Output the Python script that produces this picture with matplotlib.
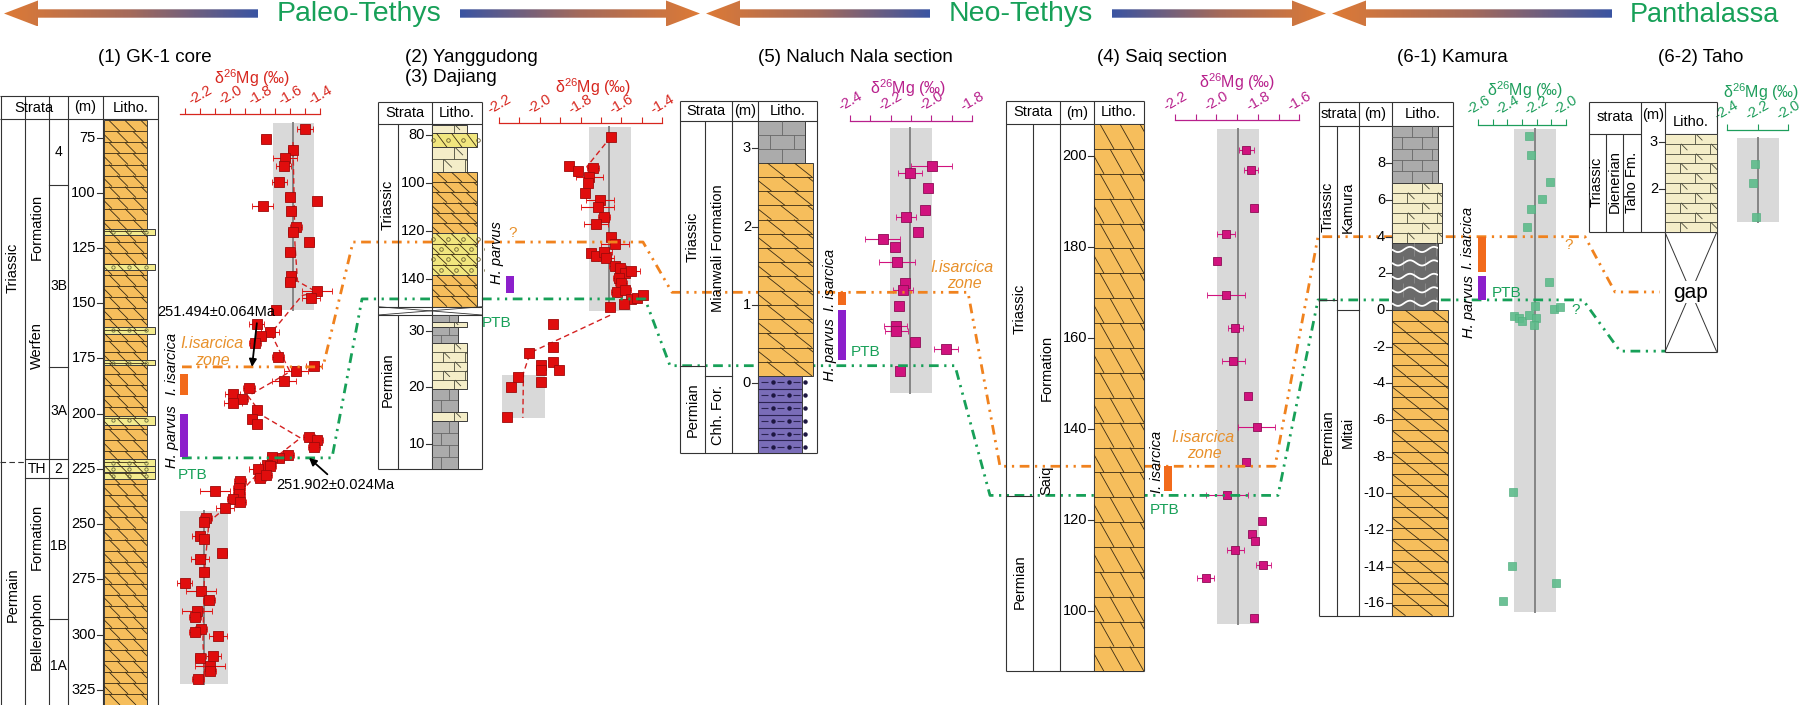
import numpy as np
import matplotlib.pyplot as plt
from matplotlib.patches import Rectangle, Polygon
from matplotlib.collections import LineCollection
from matplotlib.colors import LinearSegmentedColormap
from matplotlib.ticker import MultipleLocator, FormatStrFormatter

plt.rcParams['font.family'] = ['Liberation Sans', 'DejaVu Sans']
plt.rcParams['mathtext.fontset'] = 'custom'
plt.rcParams['mathtext.rm'] = 'Liberation Sans'
plt.rcParams['axes.unicode_minus'] = False

# ---------------- data ----------------
# (1) GK-1 core: depth (m), d26Mg (permil), 2SD
gk_depth = [71.1, 75.7, 80.7, 84.4, 87.8, 95.2, 101.7, 103.9, 106.1, 108.1, 115.6, 117.8,
            122.4, 126.7, 137.6, 140.6, 144.6, 147.4, 153.0, 159.4, 163.0, 165.0, 168.1, 174.3,
            178.5, 180.8, 185.0, 188.2, 191.3, 193.3, 195.2, 198.3, 202.6, 204.8, 210.4, 211.8,
            215.0, 218.7, 220.0, 219.6, 223.0, 223.9, 225.2, 228.9, 227.6, 230.4, 233.5, 234.8,
            236.3, 238.5, 240.0, 242.8, 247.4, 248.9, 255.4, 256.7, 263.1, 265.9, 271.5, 276.7,
            280.4, 284.4, 289.4, 292.2, 297.4, 298.7, 300.7, 309.8, 310.7, 314.1, 316.5, 320.0]
gk_d26 = [-1.50, -1.76, -1.58, -1.63, -1.64, -1.67, -1.60, -1.42, -1.78, -1.59, -1.56, -1.58,
          -1.47, -1.60, -1.59, -1.60, -1.42, -1.46, -1.69, -1.82, -1.73, -1.79, -1.83, -1.68,
          -1.44, -1.56, -1.64, -1.87, -1.98, -1.92, -1.98, -1.82, -1.85, -1.82, -1.47, -1.42,
          -1.44, -1.61, -1.67, -1.72, -1.75, -1.73, -1.81, -1.80, -1.76, -1.93, -1.94, -2.10,
          -1.94, -1.98, -1.93, -2.03, -2.16, -2.17, -2.20, -2.17, -2.05, -2.20, -2.17, -2.30,
          -2.19, -2.14, -2.22, -2.23, -2.19, -2.23, -2.08, -2.11, -2.20, -2.13, -2.13, -2.21]
gk_err = [0.055, 0.03, 0.03, 0.08, 0.05, 0.05, 0.03, 0.0, 0.07, 0.03, 0.04, 0.03,
          0.03, 0.03, 0.03, 0.03, 0.10, 0.06, 0.03, 0.05, 0.06, 0.03, 0.04, 0.04,
          0.05, 0.08, 0.08, 0.04, 0.05, 0.04, 0.06, 0.03, 0.03, 0.03, 0.04, 0.04,
          0.04, 0.04, 0.03, 0.03, 0.05, 0.04, 0.06, 0.04, 0.04, 0.04, 0.04, 0.10,
          0.04, 0.04, 0.04, 0.06, 0.04, 0.03, 0.05, 0.03, 0.03, 0.06, 0.03, 0.05,
          0.10, 0.04, 0.10, 0.04, 0.04, 0.04, 0.06, 0.05, 0.03, 0.10, 0.04, 0.04]
gk_trend_depth = [77, 123, 140, 145, 146.5, 163, 166, 181, 192, 201, 211, 220.5, 229, 242, 249, 271, 303, 320]
gk_trend_d26 = [-1.58, -1.567, -1.55, -1.42, -1.52, -1.72, -1.71, -1.60, -1.88, -1.78, -1.53,
                -1.71, -1.84, -2.02, -2.14, -2.17, -2.18, -2.17]
gk_band = [(-1.716, -1.44, 68.5, 153.2, -1.58), (-2.33, -2.01, 244.0, 322.2, -2.17)]
gk_ticks = [75, 100, 125, 150, 175, 200, 225, 250, 275, 300, 325]
gk_beds = [(116.6, 119.0), (132.3, 134.9), (160.9, 163.7), (175.7, 178.1), (201.2, 204.9),
           (220.6, 223.6), (223.6, 226.6), (226.6, 229.7)]
gk_units = [96.6, 178.8, 293.0]

# (2) Yanggudong
yg_depth = [80.7, 92.9, 95.0, 93.9, 97.4, 99.9, 104.0, 107.0, 109.9, 114.0, 117.2, 122.4,
            125.6, 129.3, 130.4, 128.6, 131.4, 134.6, 135.5, 137.4, 136.5, 139.7, 141.8, 145.3,
            144.6, 148.5, 150.5, 148.0, 146.7, 151.5]
yg_d26 = [-1.650, -1.855, -1.814, -1.737, -1.757, -1.765, -1.778, -1.704, -1.716, -1.683, -1.724, -1.650,
          -1.631, -1.748, -1.725, -1.683, -1.675, -1.631, -1.606, -1.582, -1.552, -1.610, -1.601, -1.619,
          -1.582, -1.552, -1.587, -1.524, -1.492, -1.655]
yg_err = [0.0, 0.0, 0.0, 0.03, 0.065, 0.0, 0.0, 0.07, 0.08, 0.03, 0.06, 0.0,
          0.07, 0.0, 0.0, 0.04, 0.04, 0.03, 0.03, 0.0, 0.045, 0.03, 0.03, 0.03,
          0.03, 0.0, 0.0, 0.0, 0.0, 0.0]
yg_trend_depth = [80.7, 93.2, 96.7]
yg_trend_d26 = [-1.650, -1.769, -1.737]
yg_band = (-1.758, -1.552, 76.5, 153.2, -1.66)
yg_ticks = [80, 100, 120, 140]
yg_litho = [('dls', 75.8, 79.0), ('oo', 79.0, 85.1), ('dls', 85.1, 95.3), ('dol', 95.3, 121.0),
            ('oo', 121.0, 138.3), ('dol', 138.3, 151.5)]
# (3) Dajiang
dj_depth = [31.1, 26.0, 27.06, 24.52, 23.94, 23.05, 23.05, 20.88, 21.77, 20.1, 14.7]
dj_d26 = [-1.934, -2.053, -1.936, -1.936, -1.995, -1.995, -1.904, -1.995, -2.105, -2.141, -2.162]
dj_trend_depth = [32.7, 26.1, 22.5, 14.6]
dj_trend_d26 = [-1.655, -2.047, -2.08, -2.083]
dj_band = (-2.185, -1.974, 22.17, 14.53)
dj_ticks = [10, 20, 30]
dj_litho = [('gls', 32.76, 31.58), ('dls', 31.58, 30.7), ('gls', 30.7, 27.77), ('dls', 27.77, 19.65),
            ('gls', 19.65, 15.7), ('dls', 15.7, 14.1), ('gls', 14.1, 5.53)]

# (5) Naluch Nala
nn_height = [2.775, 2.682, 2.490, 2.213, 2.128, 1.936, 1.843, 1.744, 1.553, 1.285, 1.192, 0.991,
             0.732, 0.668, 0.532, 0.438, 0.161]
nn_d26 = [-1.998, -2.104, -2.017, -2.030, -2.124, -2.068, -2.240, -2.178, -2.170, -2.129, -2.140, -2.160,
          -2.175, -2.173, -2.080, -1.928, -2.153]
nn_err = [0.10, 0.06, 0, 0, 0.05, 0, 0.086, 0, 0.088, 0, 0.05, 0, 0.057, 0.057, 0, 0.06, 0]
nn_band = (-2.203, -1.997, 3.26, -0.128, -2.104)
nn_ticks = [0, 1, 2, 3]

# (4) Saiq
sq_height = [201.3, 197.0, 188.5, 182.8, 176.9, 169.5, 162.1, 154.9, 147.3, 140.4, 132.7, 125.4,
             119.7, 116.9, 115.3, 113.5, 110.0, 107.3, 98.5]
sq_d26 = [-1.855, -1.834, -1.818, -1.954, -1.996, -1.954, -1.908, -1.919, -1.850, -1.806, -1.855, -1.948,
          -1.782, -1.827, -1.814, -1.908, -1.774, -2.052, -1.818]
sq_err = [0.036, 0.034, 0, 0.042, 0, 0.09, 0.035, 0.056, 0, 0.09, 0, 0.10, 0, 0, 0, 0.043, 0.036, 0.04, 0]
sq_band = (-1.996, -1.795, 206.0, 97.2, -1.895)
sq_ticks = [100, 120, 140, 160, 180, 200]

# (6-1) Kamura
km_height = [9.49, 8.46, 7.0, 6.04, 5.51, 4.51, 1.51, 0.22, 0.04, 0.18, -0.33, -0.42, -0.6, -0.27,
             -0.45, -0.82, -9.95, -13.95, -14.9, -15.9]
km_d26 = [-2.252, -2.24, -2.108, -2.165, -2.24, -2.263, -2.114, -2.21, -2.08, -2.04, -2.355, -2.318,
          -2.302, -2.252, -2.206, -2.215, -2.36, -2.368, -2.068, -2.428]
km_band = (-2.355, -2.068, 9.86, -16.46, -2.21)
km_ticks = [-16, -14, -12, -10, -8, -6, -4, -2, 0, 2, 4, 6, 8]

# (6-2) Taho
th_height = [2.53, 2.14, 1.41]
th_d26 = [-2.215, -2.232, -2.21]
th_band = (-2.331, -2.06, 3.07, 1.31, -2.2)
th_ticks = [2, 3]

# delta axes tick labels
gk_xt = [-2.2, -2.0, -1.8, -1.6, -1.4]
yg_xt = [-2.2, -2.0, -1.8, -1.6, -1.4]
nn_xt = [-2.4, -2.2, -2.0, -1.8]
sq_xt = [-2.2, -2.0, -1.8, -1.6]
km_xt = [-2.6, -2.4, -2.2, -2.0]
th_xt = [-2.4, -2.2, -2.0]

# biozones & boundaries (section metres)
zone_level = {'gk': 178.8, 'yg': 124.6, 'nn': 1.162, 'sq': 131.8, 'km': 4.0, 'th': -0.157}
ptb_level = {'gk': 220.0, 'yg': 148.3, 'nn': 0.225, 'sq': 125.4, 'km': 0.55, 'th': -1.40}

# ---------------- styles ----------------
W, H = 1800, 705
FR = '#333333'
LN = '#3a2c14'
DOL = '#F6BE5C'
GREY = '#ABABAB'
CREAM = '#F4EDC8'
OOL = '#F1E67E'
BED = '#F3EB8D'
DARK = '#6B6B6B'
PURP = '#7A6DB8'
RED = '#D7261E'
MAG = '#B8208C'
GRN = '#1E9E5C'
ORG = '#F0821E'
ZONE = '#E8902A'
PTBC = '#17A058'
BAR_O = '#F26A1B'
BAR_P = '#8C1FCB'
DASH = (3.5, 2, 0.8, 2, 0.8, 2)

fig = plt.figure(figsize=(W / 100, H / 100), dpi=100)


def box(x0, y0, x1, y1):
    return [x0 / W, 1 - y1 / H, (x1 - x0) / W, (y1 - y0) / H]


class Column:
    """Axes with figure-pixel x and the section's metre scale on y."""
    def __init__(self, x0, x1, y0, y1, ya, va, yb, vb):
        self.ya, self.va = ya, va
        self.k = (vb - va) / (yb - ya)
        self.ax = fig.add_axes(box(x0, y0, x1, y1), zorder=3)
        self.ax.set_xlim(x0, x1)
        self.ax.set_ylim(self.v(y1), self.v(y0))
        self.ax.axis('off')

    def v(self, y):
        return self.va + (y - self.ya) * self.k

    def y(self, v):
        return self.ya + (v - self.va) / self.k


def seg(c, x0, y0, x1, y1, **kw):
    kw.setdefault('color', FR)
    kw.setdefault('lw', 0.8)
    c.ax.plot([x0, x1], [c.v(y0), c.v(y1)], clip_on=False, solid_capstyle='butt', **kw)


def dseg(c, d, x0, x1, **kw):
    kw.setdefault('color', FR)
    kw.setdefault('lw', 0.8)
    c.ax.plot([x0, x1], [d, d], clip_on=False, **kw)


def txt(c, x, y, s, **kw):
    kw.setdefault('ha', 'center')
    kw.setdefault('va', 'center')
    kw.setdefault('fontsize', 10.5)
    c.ax.text(x, c.v(y), s, clip_on=False, **kw)


def depth_ticks(c, ticks, xr, fs=10.5):
    for d in ticks:
        c.ax.plot([xr - 6, xr], [d, d], color=FR, lw=0.8, clip_on=False)
        c.ax.text(xr - 7, d, f'{d:g}', ha='right', va='center', fontsize=fs, clip_on=False)


# ---- lithology textures ----
def edges(c, top, bot, rh):
    ya, yb = sorted((c.y(top), c.y(bot)))
    n = max(1, int(round((yb - ya) / rh)))
    return np.linspace(ya, yb, n + 1)


def base(c, x0, x1, top, bot, fc):
    lo, hi = sorted((top, bot))
    r = Rectangle((x0, lo), x1 - x0, hi - lo, fc=fc, ec='#3c3c3c', lw=0.7, zorder=2)
    c.ax.add_patch(r)
    return r


def put(c, segs, clip, color, lw=0.6):
    lc = LineCollection(segs, colors=color, linewidths=lw, zorder=3)
    c.ax.add_collection(lc)
    lc.set_clip_path(clip)


def dolomite(c, x0, x1, top, bot, rh, sp, dx, fc=DOL, ooids=False):
    r = base(c, x0, x1, top, bot, fc)
    e = edges(c, top, bot, rh)
    segs, ox, oy = [], [], []
    for i in range(len(e) - 1):
        a, b = e[i], e[i + 1]
        if i:
            segs.append([(x0, c.v(a)), (x1, c.v(a))])
        off = (i % 2) * sp / 2
        for x in np.arange(x0 - dx + off, x1, sp):
            segs.append([(x, c.v(a)), (x + dx, c.v(b))])
            if ooids:
                ox.append(x + dx * 0.5 + sp * 0.45)
                oy.append(c.v((a + b) / 2))
    put(c, segs, r, LN)
    if ooids:
        c.ax.plot(ox, oy, 'o', ms=2.6, mfc='none', mec='#6b6030', mew=0.6, clip_path=r, zorder=3)


def limestone(c, x0, x1, top, bot, rh, bw, fc=GREY, lc='#666666', ticks=False):
    r = base(c, x0, x1, top, bot, fc)
    e = edges(c, top, bot, rh)
    segs, tk = [], []
    for i in range(len(e) - 1):
        a, b = e[i], e[i + 1]
        if i:
            segs.append([(x0, c.v(a)), (x1, c.v(a))])
        off = bw / 2 if i % 2 else bw
        for x in np.arange(x0 + off, x1, bw):
            segs.append([(x, c.v(a)), (x, c.v(b))])
            if ticks:
                h = 0.65 * (b - a)
                tk.append([(x + 1, c.v(a)), (x + 1 + h, c.v(a + h))])
    put(c, segs, r, lc)
    if tk:
        put(c, tk, r, lc)


def wavy(c, x0, x1, top, bot, rh):
    r = base(c, x0, x1, top, bot, DARK)
    e = edges(c, top, bot, rh)
    joints, waves = [], []
    xs = np.linspace(x0, x1, 80)
    for i in range(len(e) - 1):
        a, b = e[i], e[i + 1]
        off = 11 if i % 2 else 22
        for x in np.arange(x0 + off, x1, 22):
            joints.append([(x, c.v(a)), (x, c.v(b))])
        ym = (a + b) / 2
        waves.append(np.column_stack([xs, c.v(ym + 2.6 * np.sin((xs - x0) / 24.0 * 2 * np.pi))]))
    put(c, joints, r, '#8c8c8c')
    put(c, waves, r, 'white', lw=1.3)


def siltstone(c, x0, x1, top, bot, rh):
    r = base(c, x0, x1, top, bot, PURP)
    e = edges(c, top, bot, rh)
    segs, px, py = [], [], []
    for i in range(len(e) - 1):
        a, b = e[i], e[i + 1]
        if i:
            segs.append([(x0, c.v(a)), (x1, c.v(a))])
        ym = c.v((a + b) / 2)
        for x in np.arange(x0 + 3, x1, 16):
            segs.append([(x, ym), (x + 7, ym)])
            px.append(x + 11.5)
            py.append(ym)
    put(c, segs, r, '#2b2352', lw=0.8)
    c.ax.plot(px, py, 'o', ms=2.2, color='#1d1640', clip_path=r, zorder=3)


def data_axes(c, x0, x1, y0, y1, lim, xt, color, minor=0.1, axis=True):
    ax = fig.add_axes(box(x0, y0, x1, y1), zorder=1)
    ax.set_xlim(*lim)
    ax.set_ylim(c.v(y1), c.v(y0))
    ax.patch.set_visible(False)
    for s in ('left', 'right', 'bottom'):
        ax.spines[s].set_visible(False)
    ax.set_yticks([])
    if axis:
        ax.spines['top'].set_color(color)
        ax.spines['top'].set_linewidth(0.9)
        ax.xaxis.set_ticks_position('top')
        ax.set_xticks(xt)
        ax.xaxis.set_major_formatter(FormatStrFormatter('%.1f'))
        if minor:
            ax.xaxis.set_minor_locator(MultipleLocator(minor))
        ax.tick_params(axis='x', which='both', colors=color, length=4, width=0.8,
                       labelsize=10.5, pad=1, labelrotation=30)
    else:
        ax.spines['top'].set_visible(False)
        ax.set_xticks([])
    return ax


def band(ax, b, center=True):
    lo, hi, d0, d1 = b[:4]
    ax.fill_betweenx([d0, d1], lo, hi, color='#D9D9D9', lw=0, zorder=0, clip_on=False)
    if center and len(b) > 4:
        ax.plot([b[4], b[4]], [d0, d1], color='#858585', lw=1.4, zorder=1, clip_on=False)


def points(ax, x, d, err, fc, ec, ms=6.5):
    ax.errorbar(x, d, xerr=err, fmt='s', ms=ms, mfc=fc, mec=ec, mew=0.6, ecolor=fc,
                elinewidth=0.8, capsize=2, capthick=0.8, clip_on=False, zorder=4)


def mg_label(c, x, y, color):
    txt(c, x, y, 'δ$^{26}$Mg (‰)', color=color, fontsize=11.5)


def bar(c, x, d0, d1, color):
    lo, hi = sorted((d0, d1))
    c.ax.add_patch(Rectangle((x, lo), 8, hi - lo, fc=color, ec='none', clip_on=False, zorder=4))


# ================= (1) GK-1 core =================
c1 = Column(0, 160, 96, 705, 137.6, 75, 689.8, 325)
for x in (0.6, 25, 49, 68, 103, 158):
    seg(c1, x, 96, x, 705)
seg(c1, 0, 96, 158, 96)
seg(c1, 0, 119.2, 158, 119.2)
for d in gk_units:
    dseg(c1, d, 49, 68)
dseg(c1, 220.6, 25, 68)
dseg(c1, 229.3, 25, 68)
dseg(c1, 221.9, 0, 25, ls=(0, (5, 3)))
dolomite(c1, 104, 147, c1.v(120.4), c1.v(705), rh=11, sp=16, dx=11)
for t, b in gk_beds:
    base(c1, 104, 155, t, b, BED)
    m = (t + b) / 2
    c1.ax.plot([113, 129, 146], [m] * 3, 'o', ms=2.4, mfc='none', mec='#6a6a3a', mew=0.6, zorder=3)
depth_ticks(c1, gk_ticks, 103)
for x, y, s in [(34, 107.5, 'Strata'), (85.5, 107.5, '(m)'), (130.5, 107.5, 'Litho.')]:
    txt(c1, x, y, s, fontsize=10.5)
for x, y, s in [(12.5, 268, 'Triassic'), (12.5, 595, 'Permain'), (37, 227, 'Formation'),
                (37, 346, 'Werfen'), (37, 537, 'Formation'), (37, 631, 'Bellerophon')]:
    txt(c1, x, y, s, rotation=90)
for x, y, s in [(58.5, 152, '4'), (58.5, 286, '3B'), (58.5, 411, '3A'), (37, 469, 'TH'),
                (58.5, 469, '2'), (58.5, 546, '1B'), (58.5, 666, '1A')]:
    txt(c1, x, y, s, fontsize=10)
txt(c1, 155, 57, '(1) GK-1 core', fontsize=13.5)
mg_label(c1, 252, 78.5, RED)
a1 = data_axes(c1, 180, 320, 114.3, 705, (-2.333, -1.4), gk_xt, RED)
for b in gk_band:
    band(a1, b)
a1.plot(gk_trend_d26, gk_trend_depth, color='#D42020', lw=1, ls=(0, (4, 2.5)), zorder=2)
points(a1, gk_d26, gk_depth, gk_err, '#E00D0D', '#9E0A0A')
bar(c1, 180, 182.2, 191.4, BAR_O)
bar(c1, 180, 200.3, 219.5, BAR_P)
txt(c1, 172, 364, 'I. isarcica', rotation=90, style='italic', fontsize=10.5)
txt(c1, 172, 437, 'H. parvus', rotation=90, style='italic', fontsize=10.5)
txt(c1, 212, 343, 'I.isarcica', color=ZONE, style='italic', fontsize=11.5)
txt(c1, 212, 360, 'zone', color=ZONE, style='italic', fontsize=11.5)
txt(c1, 193, 475, 'PTB', color=PTBC, fontsize=11)
c1.ax.annotate('251.494±0.064Ma', xy=(252, 178.8), xytext=(216, c1.v(312)), ha='center', va='center',
               fontsize=10.5, annotation_clip=False,
               arrowprops=dict(arrowstyle='-|>', color='k', lw=1.3, relpos=(0.85, 0.0),
                               shrinkA=1, shrinkB=0, mutation_scale=11))
c1.ax.annotate('251.902±0.024Ma', xy=(309, 220.0), xytext=(276, c1.v(485)), ha='left', va='center',
               fontsize=10.5, annotation_clip=False,
               arrowprops=dict(arrowstyle='-|>', color='k', lw=1.3, relpos=(0.47, 1.0),
                               shrinkA=1, shrinkB=0, mutation_scale=11))

# ================= (2) Yanggudong / (3) Dajiang =================
c2 = Column(378, 484, 101.7, 306.7, 135, 80, 279, 140)
c3 = Column(378, 484, 306.7, 469.3, 387.3, 20, 444, 10)
for x in (378, 432, 482):
    seg(c2, x, 101.7, x, 306.7)
    seg(c3, x, 306.7, x, 469.3)
seg(c2, 398, 124.3, 398, 306.7)
seg(c3, 398, 315, 398, 469.3)
seg(c2, 378, 101.7, 482, 101.7)
seg(c2, 378, 124.3, 482, 124.3)
seg(c3, 378, 469.3, 482, 469.3)
seg(c3, 378, 306.7, 482, 306.7)
seg(c3, 378, 315, 482, 315)
seg(c3, 378, 306.7, 482, 315, lw=0.6)
seg(c3, 378, 315, 482, 306.7, lw=0.6)
wid = {'dls': 467, 'oo': 477, 'dol': 477, 'gls': 458}
for c, lit in ((c2, yg_litho), (c3, dj_litho)):
    for kind, t, b in lit:
        x1 = wid[kind]
        if kind == 'dol':
            dolomite(c, 432, x1, t, b, rh=11, sp=15, dx=11)
        elif kind == 'oo':
            dolomite(c, 432, x1, t, b, rh=11, sp=15, dx=11, fc=OOL, ooids=True)
        elif kind == 'dls':
            limestone(c, 432, x1, t, b, rh=10, bw=22, fc=CREAM, lc='#4a4a3a', ticks=True)
        else:
            limestone(c, 432, x1, t, b, rh=11, bw=17)
depth_ticks(c2, yg_ticks, 432)
depth_ticks(c3, dj_ticks, 432)
txt(c2, 405, 113, 'Strata')
txt(c2, 457, 113, 'Litho.')
txt(c2, 388, 205, 'Triassic', rotation=90)
txt(c3, 388, 380, 'Permian', rotation=90)
txt(c2, 405, 57, '(2) Yanggudong', fontsize=13.5, ha='left')
txt(c2, 405, 78, '(3) Dajiang', fontsize=13.5, ha='left')
mg_label(c2, 593, 87, RED)
a2 = data_axes(c2, 499, 662, 123.3, 306.7, (-2.2, -1.4), yg_xt, RED)
a3 = data_axes(c3, 499, 662, 306.7, 469.3, (-2.2, -1.4), yg_xt, RED, axis=False)
band(a2, yg_band)
band(a3, dj_band, center=False)
a2.plot(yg_trend_d26, yg_trend_depth, color='#D42020', lw=1, ls=(0, (4, 2.5)), zorder=2, clip_on=False)
a3.plot(dj_trend_d26, dj_trend_depth, color='#D42020', lw=1, ls=(0, (4, 2.5)), zorder=2, clip_on=False)
points(a2, yg_d26, yg_depth, yg_err, '#E00D0D', '#9E0A0A', ms=7)
points(a3, dj_d26, dj_depth, None, '#E00D0D', '#9E0A0A', ms=7)
bar(c2, 506, 138.8, 146.0, BAR_P)
txt(c2, 497, 253, 'H. parvus', rotation=90, style='italic')
txt(c2, 513, 233, '?', color=ZONE, fontsize=11)
txt(c2, 497, 323, 'PTB', color=PTBC, fontsize=11)

# ================= (5) Naluch Nala =================
c5 = Column(680, 818, 101, 453.3, 383.3, 0, 148.4, 3)
for x in (680, 732, 758, 817):
    seg(c5, x, 101, x, 453.3)
seg(c5, 705, 120.7, 705, 453.3)
seg(c5, 680, 101, 817, 101)
seg(c5, 680, 120.7, 817, 120.7)
seg(c5, 680, 453.3, 817, 453.3)
dseg(c5, 0.225, 680, 705)
dseg(c5, 0.093, 705, 732)
limestone(c5, 758, 805, 3.354, 2.817, rh=14, bw=24)
dolomite(c5, 758, 813, 2.817, 0.093, rh=14, sp=27, dx=18)
siltstone(c5, 758, 802, 0.093, -0.894, rh=13.3)
depth_ticks(c5, nn_ticks, 758)
for x, s in ((706, 'Strata'), (745, '(m)'), (787.5, 'Litho.')):
    txt(c5, x, 111, s)
for x, y, s in [(692.5, 237, 'Triassic'), (718.5, 248, 'Mianwali Formation'),
                (692.5, 410, 'Permian'), (718.5, 415, 'Chh. For.')]:
    txt(c5, x, y, s, rotation=90)
txt(c5, 855, 57, '(5) Naluch Nala section', fontsize=13.5)
mg_label(c5, 908, 88, MAG)
a5 = data_axes(c5, 850, 972, 120.7, 453.3, (-2.4, -1.8), nn_xt, MAG)
band(a5, nn_band)
points(a5, nn_d26, nn_height, nn_err, '#D1127E', '#8E0C55', ms=6.8)
bar(c5, 838, 1.162, 1.0, BAR_O)
bar(c5, 838, 0.936, 0.298, BAR_P)
txt(c5, 830, 280, 'I. isarcica', rotation=90, style='italic')
txt(c5, 830, 350, 'H. parvus', rotation=90, style='italic')
txt(c5, 866, 352, 'PTB', color=PTBC, fontsize=11)
txt(c5, 962, 268, 'I.isarcica', color=ZONE, style='italic', fontsize=11.5)
txt(c5, 964, 283.5, 'zone', color=ZONE, style='italic', fontsize=11.5)

# ================= (4) Saiq =================
c4 = Column(1005.7, 1145, 100.8, 671.4, 155.9, 200, 611, 100)
for x in (1006, 1060, 1094, 1144):
    seg(c4, x, 100.8, x, 671.4)
seg(c4, 1033, 124.1, 1033, 671.4)
seg(c4, 1006, 100.8, 1144, 100.8)
seg(c4, 1006, 124.1, 1144, 124.1)
seg(c4, 1006, 671.4, 1144, 671.4)
dseg(c4, 125.3, 1006, 1033)
dolomite(c4, 1094, 1144, c4.v(124.1), c4.v(671.4), rh=24.5, sp=20, dx=14)
depth_ticks(c4, sq_ticks, 1094)
for x, s in ((1033, 'Strata'), (1077, '(m)'), (1119, 'Litho.')):
    txt(c4, x, 112.5, s)
for x, y, s in [(1019.5, 309, 'Triassic'), (1019.5, 582, 'Permian'),
                (1046.5, 368, 'Formation'), (1046.5, 480, 'Saiq')]:
    txt(c4, x, y, s, rotation=90)
txt(c4, 1162, 57, '(4) Saiq section', fontsize=13.5)
mg_label(c4, 1237, 82.5, MAG)
a4 = data_axes(c4, 1175, 1299.3, 120.4, 671.4, (-2.2, -1.6), sq_xt, MAG)
band(a4, sq_band)
points(a4, sq_d26, sq_height, sq_err, '#D1127E', '#8E0C55', ms=6.3)
bar(c4, 1163.5, 131.8, 126.4, BAR_O)
txt(c4, 1157, 462, 'I. isarcica', rotation=90, style='italic')
txt(c4, 1165, 510, 'PTB', color=PTBC, fontsize=11)
txt(c4, 1203, 437.5, 'I.isarcica', color=ZONE, style='italic', fontsize=11.5)
txt(c4, 1204, 454, 'zone', color=ZONE, style='italic', fontsize=11.5)

# ================= (6-1) Kamura =================
c6 = Column(1318.3, 1454, 101.7, 615.7, 310, 0, 493.3, -10)
for x in (1318.6, 1359, 1392, 1452.7):
    seg(c6, x, 101.7, x, 615.7)
seg(c6, 1337, 126, 1337, 615.7)
seg(c6, 1318.6, 101.7, 1452.7, 101.7)
seg(c6, 1318.6, 126, 1452.7, 126)
seg(c6, 1318.6, 615.7, 1452.7, 615.7)
dseg(c6, 0.55, 1318.6, 1337)
dseg(c6, 0.0, 1337, 1359)
limestone(c6, 1392, 1438, c6.v(126), 6.95, rh=11, bw=20)
limestone(c6, 1392, 1441.7, 6.95, 3.67, rh=10, bw=30, fc=CREAM, lc='#4a4a3a', ticks=True)
wavy(c6, 1392, 1438, 3.67, 0.0, rh=13)
dolomite(c6, 1392, 1447.7, 0.0, c6.v(615.7), rh=11, sp=27, dx=14)
depth_ticks(c6, km_ticks, 1392)
for x, s in ((1338.5, 'strata'), (1375.5, '(m)'), (1422.5, 'Litho.')):
    txt(c6, x, 114, s)
for x, y, s in [(1327.5, 207, 'Triassic'), (1348, 207, 'Kamura'),
                (1327.5, 437, 'Permian'), (1348, 432, 'Mitai')]:
    txt(c6, x, y, s, rotation=90)
txt(c6, 1452, 57, '(6-1) Kamura', fontsize=13.5)
mg_label(c6, 1525, 90, GRN)
a6 = data_axes(c6, 1478.3, 1565.7, 125, 615.7, (-2.6, -2.0), km_xt, GRN)
band(a6, km_band)
a6.plot(km_d26, km_height, 's', ms=5.6, mfc='#5DBB8B', mec='#4FAE7E', mew=0.5, alpha=0.9,
        clip_on=False, zorder=4)
bar(c6, 1478.3, 4.0, 2.09, BAR_O)
bar(c6, 1478.3, 1.86, 0.55, BAR_P)
txt(c6, 1468.5, 238, 'I. isarcica', rotation=90, style='italic')
txt(c6, 1468.5, 307, 'H. parvus', rotation=90, style='italic')
txt(c6, 1507, 292.5, 'PTB', color=PTBC, fontsize=11)
txt(c6, 1569, 245, '?', color=ZONE, fontsize=11)
txt(c6, 1576, 310, '?', color=PTBC, fontsize=11)

# ================= (6-2) Taho =================
c7 = Column(1588.3, 1718, 101.7, 352.5, 141.7, 3, 189.3, 2)
for x in (1588.6, 1641):
    seg(c7, x, 101.7, x, 232.3)
for x in (1606, 1623):
    seg(c7, x, 134, x, 232.3)
for x in (1665, 1716.7):
    seg(c7, x, 101.7, x, 351.7)
seg(c7, 1588.6, 101.7, 1716.7, 101.7)
seg(c7, 1588.6, 134, 1641, 134)
seg(c7, 1665, 134, 1716.7, 134)
seg(c7, 1588.6, 232.3, 1716.7, 232.3)
seg(c7, 1665, 351.7, 1716.7, 351.7)
seg(c7, 1665, 232.3, 1716.7, 351.7, lw=0.7)
seg(c7, 1665, 351.7, 1716.7, 232.3, lw=0.7)
limestone(c7, 1665, 1716.7, c7.v(134), c7.v(232.3), rh=9.8, bw=30, fc=CREAM, lc='#4a4a3a', ticks=True)
depth_ticks(c7, th_ticks, 1665)
txt(c7, 1614.5, 117, 'strata')
txt(c7, 1653, 115, '(m)')
txt(c7, 1691, 122, 'Litho.')
for x, s in ((1597, 'Triassic'), (1614.5, 'Dienerian'), (1632, 'Taho Fm.')):
    txt(c7, x, 182, s, rotation=90)
txt(c7, 1691, 292, 'gap', fontsize=15, bbox=dict(fc='white', ec='none', pad=1))
txt(c7, 1701, 57, '(6-2) Taho', fontsize=13.5)
mg_label(c7, 1761, 92, GRN)
a7 = data_axes(c7, 1726.7, 1788.3, 130, 232.3, (-2.4, -2.0), th_xt, GRN, minor=None)
band(a7, th_band)
a7.plot(th_d26, th_height, 's', ms=5.6, mfc='#5DBB8B', mec='#4FAE7E', mew=0.5, alpha=0.9,
        clip_on=False, zorder=4)

# ================= correlation lines =================
ov = fig.add_axes([0, 0, 1, 1], zorder=2)
ov.set_xlim(0, W)
ov.set_ylim(H, 0)
ov.axis('off')

spans_zone = [(c1, 182, 323, 'gk'), (c2, 353, 643, 'yg'), (c5, 672, 968, 'nn'),
              (c4, 1000, 1275, 'sq'), (c6, 1318, 1585, 'km'), (c7, 1615, 1660, 'th')]
spans_ptb = [(c1, 182, 332, 'gk'), (c2, 362, 645, 'yg'), (c5, 670, 955, 'nn'),
             (c4, 990, 1278, 'sq'), (c6, 1318, 1583, 'km'), (c7, 1620, 1665, 'th')]


def corr(spans, levels, color):
    pts = []
    for c, xa, xb, key in spans:
        for x in (xa, xb):
            p = c.ax.transData.transform((x, levels[key]))
            pts.append(ov.transData.inverted().transform(p))
    pts = np.array(pts)
    ov.plot(pts[:, 0], pts[:, 1], color=color, lw=2, ls=(0, DASH))


corr(spans_zone, zone_level, ORG)
corr(spans_ptb, ptb_level, PTBC)

# ================= top arrows =================
tax = fig.add_axes(box(0, 0, W, 30), zorder=4)
cmap = LinearSegmentedColormap.from_list('tethys', ['#DD7A36', '#A46A5B', '#3A54A2'])


def arrow_piece(xa, xb, head):
    cy, sh, hh, hl = 13.5, 4.2, 13, 34
    if head == 'left':
        pts = [(xa, cy), (xa + hl, cy - hh), (xa + hl, cy - sh), (xb, cy - sh), (xb, cy + sh),
               (xa + hl, cy + sh), (xa + hl, cy + hh)]
        g = np.linspace(0, 1, 256)[None, :]
    else:
        pts = [(xb, cy), (xb - hl, cy - hh), (xb - hl, cy - sh), (xa, cy - sh), (xa, cy + sh),
               (xb - hl, cy + sh), (xb - hl, cy + hh)]
        g = np.linspace(1, 0, 256)[None, :]
    poly = Polygon(pts, closed=True, fc='none', ec='none')
    tax.add_patch(poly)
    im = tax.imshow(g, extent=(xa, xb, cy + hh, cy - hh), cmap=cmap, aspect='auto', vmin=0, vmax=1)
    im.set_clip_path(poly)


arrow_piece(4, 258, 'left')
arrow_piece(460, 700, 'right')
arrow_piece(706, 930, 'left')
arrow_piece(1112, 1326, 'right')
arrow_piece(1332, 1612, 'left')
tax.set_xlim(0, W)
tax.set_ylim(30, 0)
tax.axis('off')
tax.text(359, 14, 'Paleo-Tethys', color=PTBC, fontsize=20.5, ha='center', va='center')
tax.text(1021, 14, 'Neo-Tethys', color=PTBC, fontsize=20.5, ha='center', va='center')
tax.text(1704, 15, 'Panthalassa', color=PTBC, fontsize=19.5, ha='center', va='center')

fig.savefig('out.png', dpi=100)
